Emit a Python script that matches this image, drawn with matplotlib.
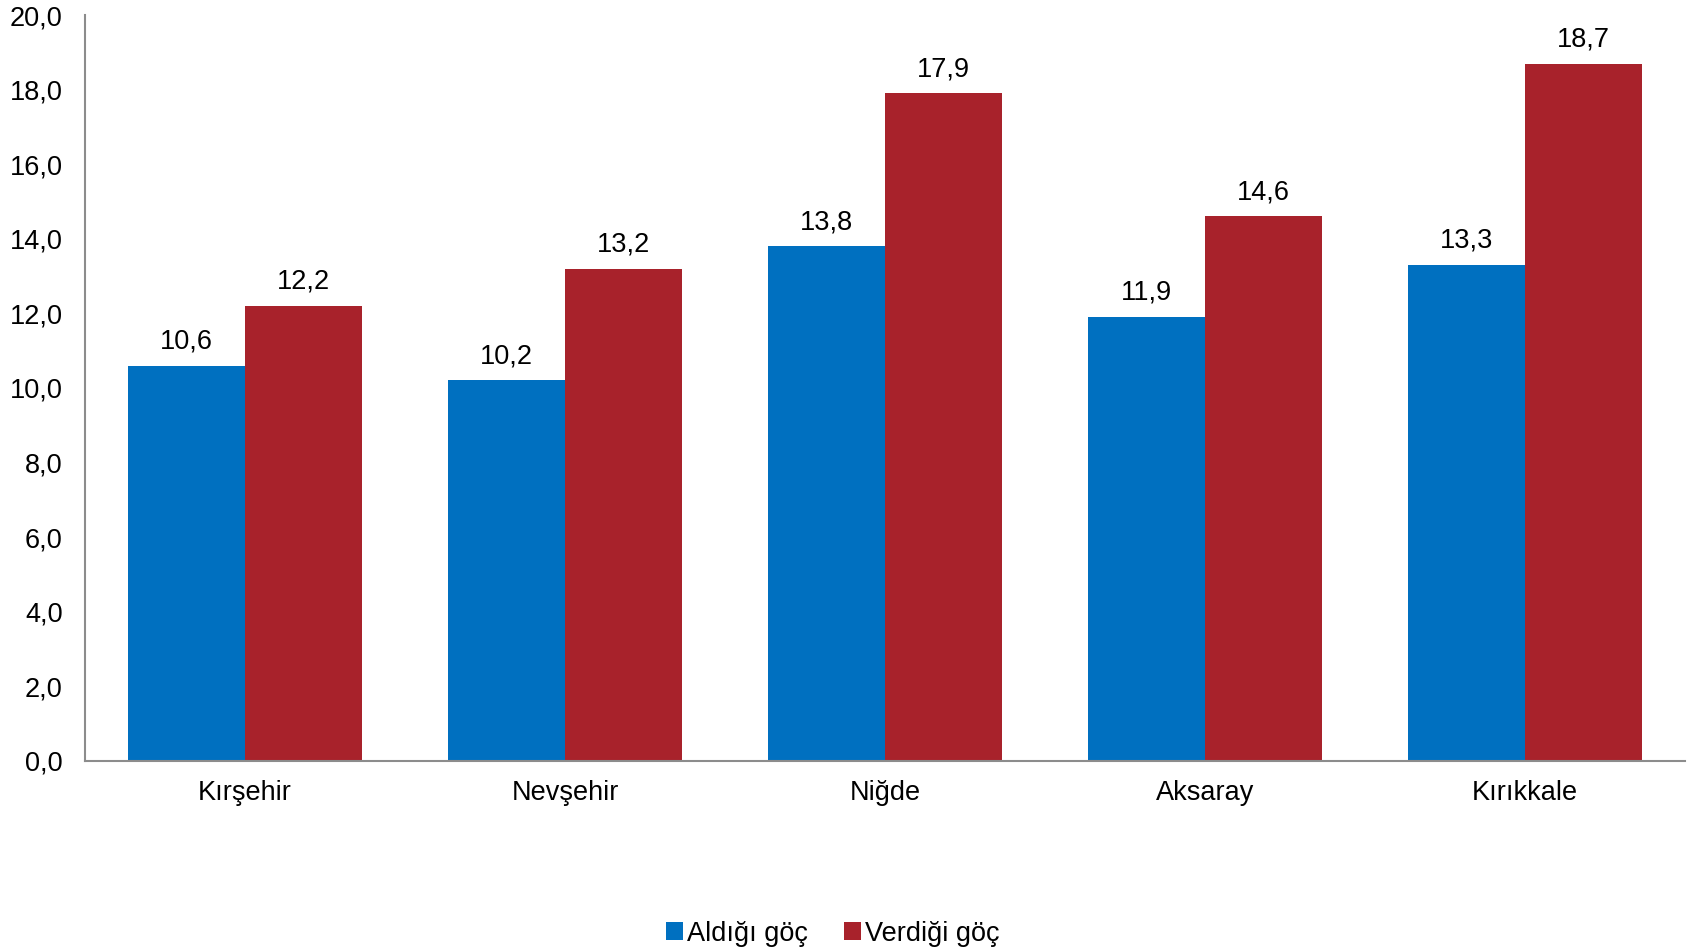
import matplotlib.pyplot as plt
import numpy as np

plt.rcParams['font.family'] = ['Liberation Sans', 'DejaVu Sans']

iller = ['Kırşehir', 'Nevşehir', 'Niğde', 'Aksaray', 'Kırıkkale']
aldigi = [10.6, 10.2, 13.8, 11.9, 13.3]
verdigi = [12.2, 13.2, 17.9, 14.6, 18.7]
yticks = np.arange(0, 21, 2)

mavi = '#0070C0'
kirmizi = '#A8222B'
fs = 19.5

fig = plt.figure(figsize=(16.96, 9.51), dpi=100)
ax = fig.add_axes([0.0501, 0.2, 0.9434, 0.7842])

x = np.arange(len(iller))
w = 0.365
b1 = ax.bar(x - w / 2, aldigi, w, color=mavi, label='Aldığı göç')
b2 = ax.bar(x + w / 2, verdigi, w, color=kirmizi, label='Verdiği göç')

for bars in (b1, b2):
    for r in bars:
        ax.text(r.get_x() + r.get_width() / 2, r.get_height() + 0.3,
                f'{r.get_height():.1f}'.replace('.', ','),
                ha='center', va='bottom', fontsize=fs)

ax.set_xlim(-0.5, len(iller) - 0.5)
ax.set_ylim(0, 20)
ax.set_yticks(yticks)
ax.set_yticklabels([f'{v:.1f}'.replace('.', ',') for v in yticks], fontsize=fs)
ax.set_xticks(x)
ax.set_xticklabels(iller, fontsize=fs)
ax.tick_params(axis='y', length=0, pad=16)
ax.tick_params(axis='x', length=0, pad=14)

for s in ('top', 'right'):
    ax.spines[s].set_visible(False)
for s in ('left', 'bottom'):
    ax.spines[s].set_color('#8C8C8C')
    ax.spines[s].set_linewidth(1.5)

fig.legend(handles=[b1, b2], loc='center', bbox_to_anchor=(0.491, 0.018), ncol=2,
           frameon=False, fontsize=fs, handlelength=0.65, handleheight=0.65,
           handletextpad=0.15, columnspacing=1.3)

fig.savefig('out.png', dpi=100)
